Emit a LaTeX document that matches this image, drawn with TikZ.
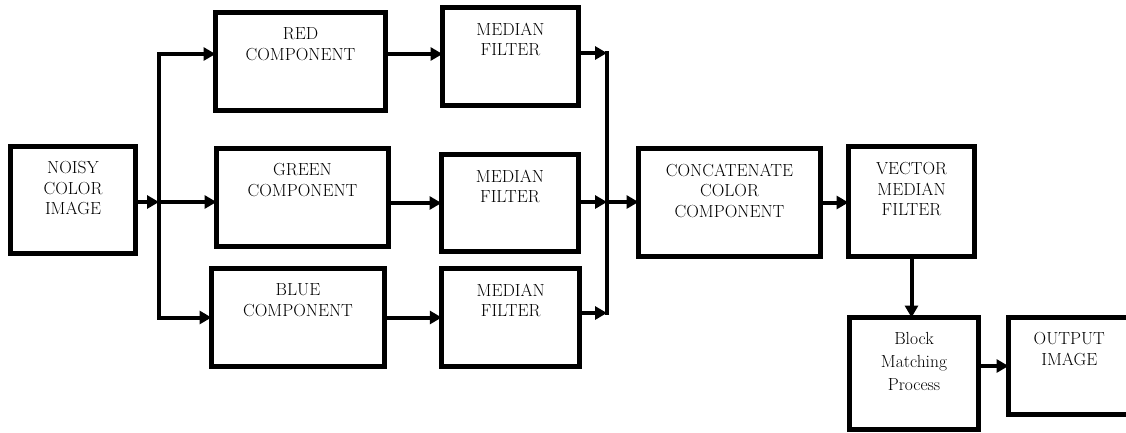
\documentclass[tikz,border=0pt]{standalone}
\usetikzlibrary{arrows.meta}
\begin{document}
\begin{tikzpicture}[x=1pt,y=-1pt,
  box/.style={draw, rectangle, line width=5pt, outer sep=0pt, inner sep=0pt},
  lbl/.style={anchor=north, inner sep=0pt, align=center, font=\fontsize{17.5}{20.5}\selectfont},
  arr/.style={line width=4pt, -{Triangle[length=12pt,width=13pt]}},
  wire/.style={line width=4pt, line cap=rect}]
\useasboundingbox (0,0) rectangle (1126,432);
% boxes
\node[box, minimum width=125pt, minimum height=107pt] (noisy) at (73,200) {};
\node[box, minimum width=170pt, minimum height=98pt] (red) at (300.5,61.5) {};
\node[box, minimum width=172pt, minimum height=98pt] (green) at (302.5,197.5) {};
\node[box, minimum width=173pt, minimum height=98pt] (blue) at (298,317.5) {};
\node[box, minimum width=136pt, minimum height=98pt] (mf1) at (510.5,56.5) {};
\node[box, minimum width=137pt, minimum height=97pt] (mf2) at (510,203) {};
\node[box, minimum width=138pt, minimum height=98pt] (mf3) at (510.75,317.5) {};
\node[box, minimum width=182pt, minimum height=108pt] (concat) at (729.5,202.5) {};
\node[box, minimum width=126pt, minimum height=110pt] (vmf) at (911.5,201.5) {};
\node[box, minimum width=129pt, minimum height=112pt] (block) at (914,373.5) {};
\node[box, minimum width=121.5pt, minimum height=97pt] (output) at (1069.25,366) {};
% texts
\node[lbl] (noisyt) at ([yshift=-15pt]noisy.north) {NOISY\\COLOR\\IMAGE};
\node[lbl] (redt) at ([yshift=-15pt]red.north) {RED\\COMPONENT};
\node[lbl] (greent) at ([yshift=-15pt]green.north) {GREEN\\COMPONENT};
\node[lbl] (bluet) at ([yshift=-15pt]blue.north) {BLUE\\COMPONENT};
\node[lbl] (mf1t) at ([yshift=-15pt]mf1.north) {MEDIAN\\FILTER};
\node[lbl] (mf2t) at ([yshift=-15pt]mf2.north) {MEDIAN\\FILTER};
\node[lbl] (mf3t) at ([yshift=-15pt]mf3.north) {MEDIAN\\FILTER};
\node[lbl] (concatt) at ([yshift=-15pt]concat.north) {CONCATENATE\\COLOR\\COMPONENT};
\node[lbl] (vmft) at ([yshift=-16pt]vmf.north) {VECTOR\\MEDIAN\\FILTER};
\node[lbl, font=\fontsize{17.5}{23}\selectfont] (blockt) at ([yshift=-15pt]block.north) {Block\\Matching\\Process};
\node[lbl] (outputt) at ([yshift=-15pt]output.north) {OUTPUT\\IMAGE};
% connectors
\coordinate (split) at (159,202);
\coordinate (m1) at (607,53);
\coordinate (m2) at (607,202);
\coordinate (m3) at (607,313);
\draw[arr] (noisy.east |- split) -- (split);
\draw[arr] (split) |- ([yshift=7.5pt]red.west);
\draw[arr] (split) -- (green.west |- split);
\draw[arr] (split) |- (blue.west);
\draw[arr] ([yshift=7.5pt]red.east) -- ([yshift=2.5pt]mf1.west);
\draw[arr] (mf2.west -| green.east) -- (mf2.west);
\draw[arr] (blue.east) -- (mf3.west);
\draw[wire] (m1) -- (m3);
\draw[arr] (mf1.east |- m1) -- (m1);
\draw[arr] (mf2.east |- m2) -- (m2);
\draw[arr] (mf3.east |- m3) -- (m3);
\draw[arr] (m2) -- (concat.west |- m2);
\draw[arr] (concat.east) -- (vmf.west |- concat.east);
\draw[arr] (vmf.south) -- (vmf.south |- block.north);
\draw[arr] (output.west -| block.east) -- (output.west);
\end{tikzpicture}
\end{document}
